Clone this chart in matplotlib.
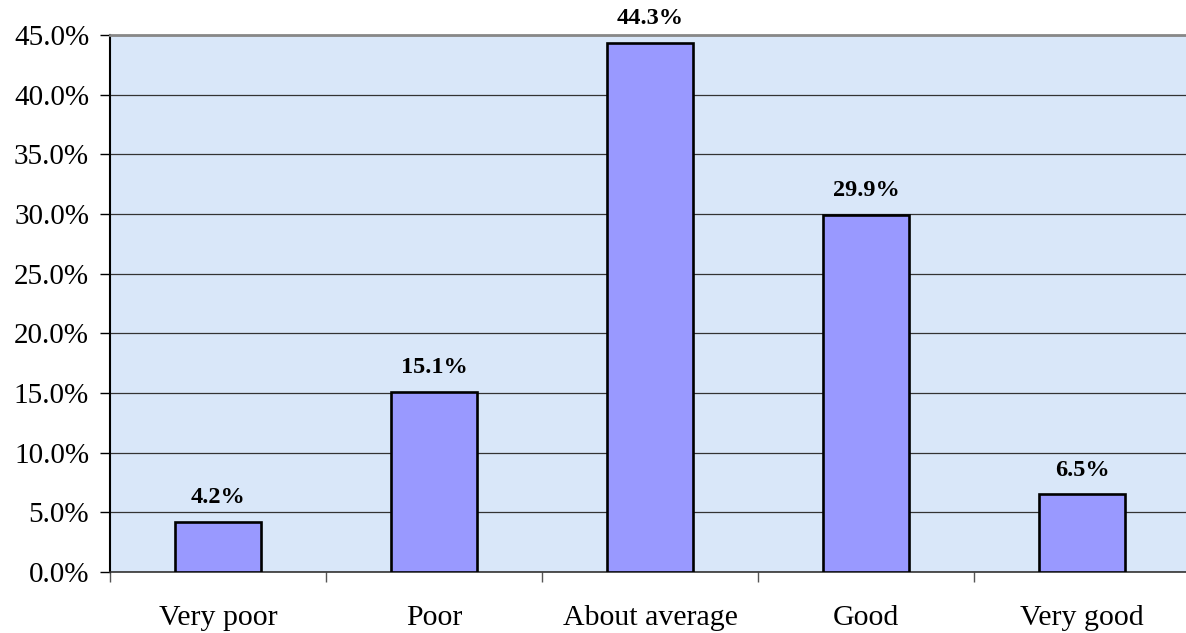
import matplotlib
matplotlib.use("Agg")
import matplotlib.pyplot as plt
from matplotlib.ticker import FixedLocator, PercentFormatter

categories = ["Very poor", "Poor", "About average", "Good", "Very good"]
values = [4.2, 15.1, 44.3, 29.9, 6.5]

plt.rcParams["font.family"] = ["Liberation Serif", "DejaVu Serif"]

fig = plt.figure(figsize=(11.86, 6.33), dpi=100)
ax = fig.add_axes([110 / 1186, 1 - 572 / 633, 1 - 110 / 1186, (572 - 35) / 633])
ax.set_facecolor("#d9e7f9")

x = list(range(len(categories)))
bars = ax.bar(x, values, width=0.4, color="#9999ff", edgecolor="black",
              linewidth=1.9, zorder=3)

# value labels above each bar
for xi, v in zip(x, values):
    ax.annotate(f"{v:.1f}%", (xi, v), textcoords="offset points", xytext=(0, 10),
                ha="center", va="bottom", fontsize=17.5, fontweight="bold")

ax.set_ylim(0, 45)
ax.set_xlim(-0.5, 4.5 - 4 / 216)
ax.set_yticks([i * 5 for i in range(10)])
ax.yaxis.set_major_formatter(PercentFormatter(decimals=1))
ax.yaxis.grid(True, color="#333333", linewidth=0.9, zorder=1)
ax.set_axisbelow(True)

ax.set_xticks(x)
ax.set_xticklabels(categories)
ax.xaxis.set_minor_locator(FixedLocator([-0.5, 0.5, 1.5, 2.5, 3.5]))
ax.tick_params(axis="x", which="major", length=0, pad=24, labelsize=21.5)
ax.tick_params(axis="x", which="minor", length=7, width=1, color="#555555", direction="out")
ax.tick_params(axis="y", length=7, width=1, pad=8, labelsize=21, direction="out")

ax.spines["right"].set_visible(False)
ax.spines["top"].set_color("#888888")
ax.spines["top"].set_linewidth(2)
ax.spines["left"].set_linewidth(1.5)
ax.spines["bottom"].set_linewidth(1.2)
ax.spines["bottom"].set_color("#333333")

fig.savefig("out.png", dpi=100)
